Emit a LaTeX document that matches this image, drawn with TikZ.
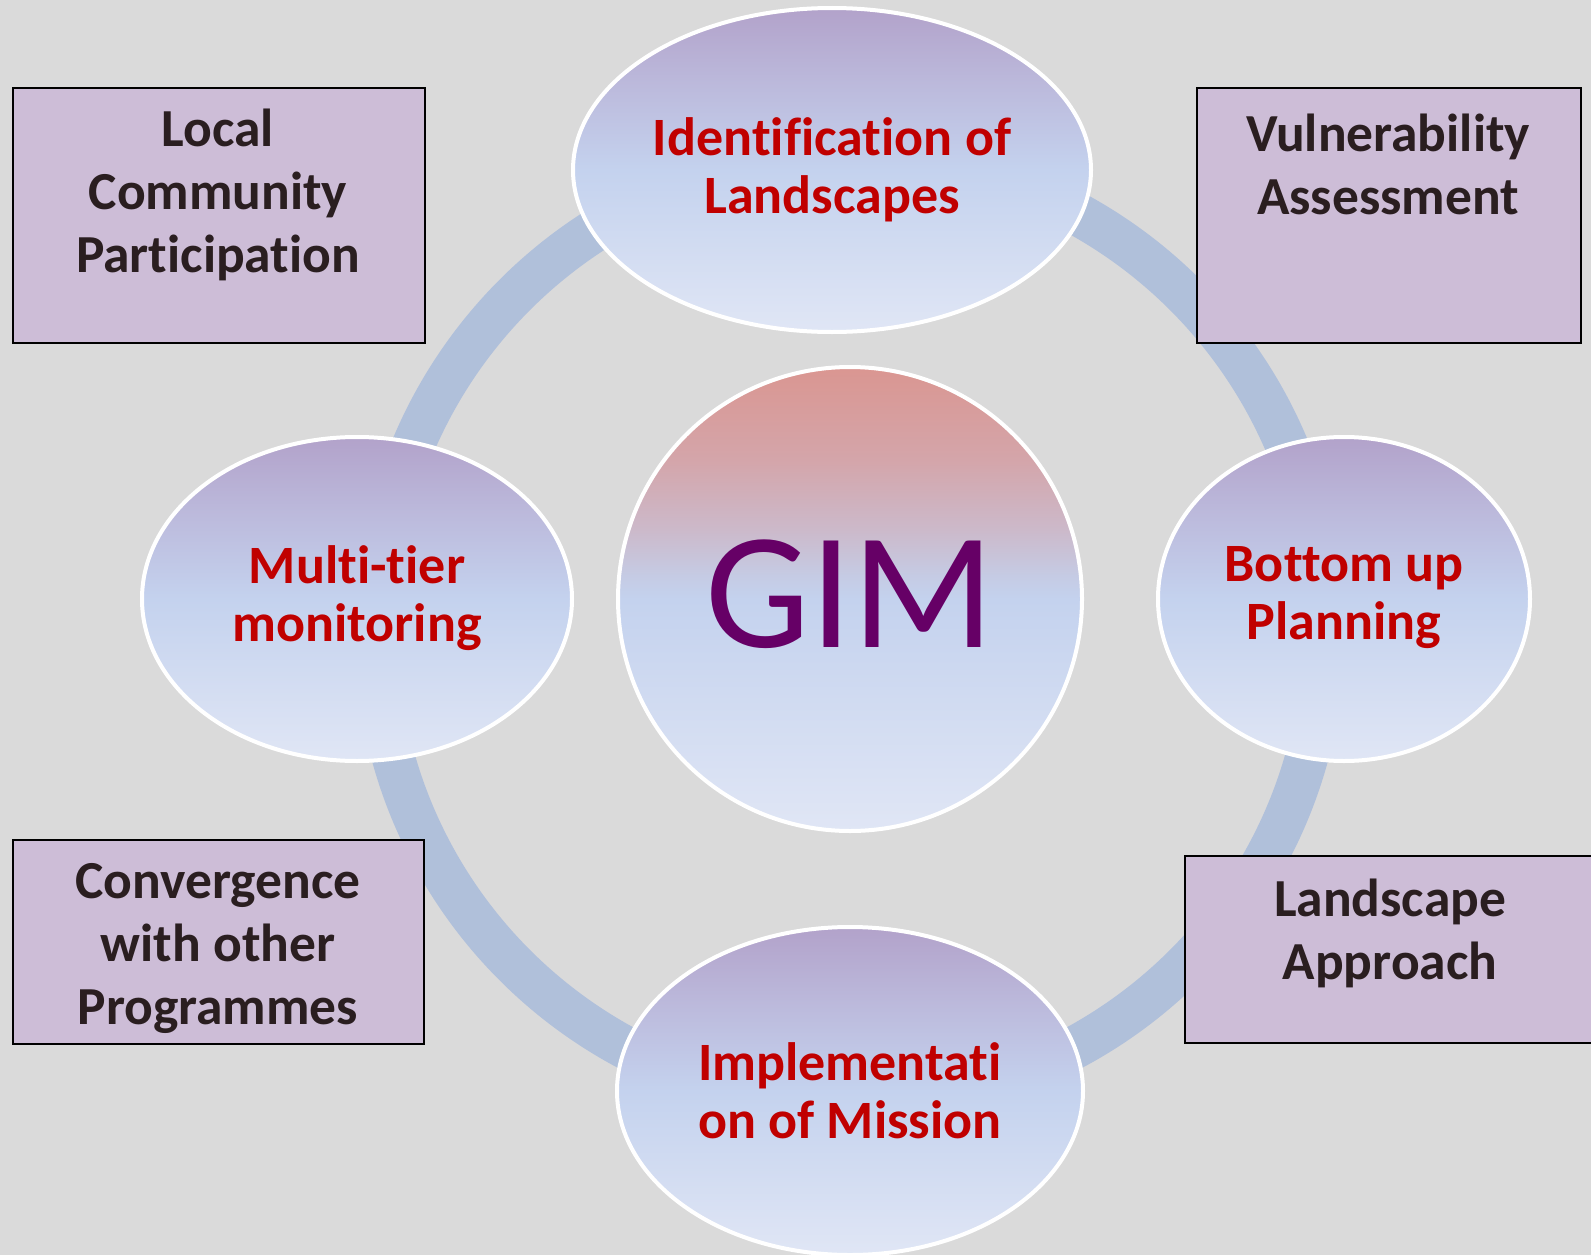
\documentclass[tikz,border=0pt]{standalone}
\usepackage{fontspec}
\setmainfont{Carlito}[Ligatures={NoCommon,NoRare,NoDiscretionary}]
\usetikzlibrary{shapes.geometric}
\definecolor{bgc}{RGB}{218,218,218}
\definecolor{ringc}{RGB}{176,192,218}
\definecolor{boxc}{RGB}{205,189,215}
\definecolor{redt}{RGB}{192,0,0}
\definecolor{boxt}{RGB}{42,30,32}
\definecolor{gimc}{RGB}{102,0,102}
\definecolor{etop}{RGB}{178,162,202}
\definecolor{eq}{RGB}{188,186,220}
\definecolor{emid}{RGB}{196,210,238}
\definecolor{ebot}{RGB}{224,230,245}
\definecolor{ctop}{RGB}{218,150,145}
\definecolor{cp}{RGB}{212,165,170}
\definecolor{cq}{RGB}{204,185,202}
\definecolor{cr}{RGB}{197,203,228}
\pgfdeclareverticalshading{gimshade}{100bp}{color(0bp)=(ebot); color(25bp)=(ebot); color(50bp)=(emid); color(52.5bp)=(cr); color(57.5bp)=(cq); color(65bp)=(cp); color(75bp)=(ctop); color(100bp)=(ctop)}
\pgfdeclareverticalshading{ovalshade}{100bp}{color(0bp)=(ebot); color(25bp)=(ebot); color(50bp)=(emid); color(63bp)=(eq); color(75bp)=(etop); color(100bp)=(etop)}
\begin{document}
\begin{tikzpicture}[x=1pt,y=-1pt,
  oval/.style={ellipse, draw=white, line width=4pt, inner sep=0pt, shading=ovalshade},
  infobox/.style={rectangle, draw=black, line width=1.8pt, fill=boxc, inner sep=0pt,
    anchor=north west},
  boxtext/.style={font=\fontsize{53.5}{63}\selectfont\bfseries, text=boxt, align=center},
  ovaltext/.style={font=\fontsize{54}{58}\selectfont\bfseries, text=redt, align=center},
  ring/.style={draw=ringc, line width=43pt}]
\useasboundingbox (0,0) rectangle (1591,1255);
\fill[bgc] (0,0) rectangle (1591,1255);
\clip (0,0) rectangle (1591,1255);
% ring
\coordinate (rc) at (850,630);
\draw[ring] (rc) circle[radius=474];
% boxes
\node[infobox, minimum width=412, minimum height=255] (b1) at (12,87) {};
\node[infobox, minimum width=384, minimum height=255] (b2) at (1196,87) {};
\node[infobox, minimum width=411, minimum height=204] (b3) at (12,839) {};
\node[infobox, minimum width=416, minimum height=187] (b4) at (1184,855) {};
\node[boxtext] (t1) at (218,195) {Local\\Community\\Participation};
\node[boxtext] (t2) at (1388,164) {Vulnerability\\Assessment};
\node[boxtext] (t3) at (218,948) {Convergence\\with other\\Programmes};
\node[boxtext] (t4) at (1390,933) {Landscape\\Approach};
% ellipses
\node[oval, minimum width=518, minimum height=324] (top) at (832,170) {};
\node[oval, minimum width=430, minimum height=324] (left) at (357,599) {};
\node[oval, minimum width=372, minimum height=324] (right) at (1344,599) {};
\node[oval, minimum width=466, minimum height=328] (bot) at (850,1091) {};
\node[ovaltext] (lt) at (832,170) {Identification of\\Landscapes};
\node[ovaltext] (ll) at (357,598) {Multi-tier\\monitoring};
\node[ovaltext] (lr) at (1344,598) {Bottom up\\Planning};
\node[ovaltext] (lb) at (850,1091) {Implementati\\on of Mission};
% center
\node[circle, draw=white, line width=4pt, inner sep=0pt, minimum size=464,
  shading=gimshade] (gim) at (850,599) {};
\node[font=\fontsize{166}{166}\selectfont, text=gimc] (gimt) at (850,594) {GIM};
\end{tikzpicture}
\end{document}
